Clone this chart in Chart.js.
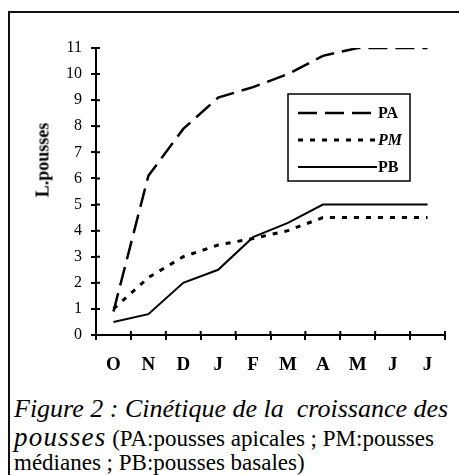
<!DOCTYPE html>
<html>
<head>
<meta charset="utf-8">
<script src="https://cdn.jsdelivr.net/npm/chart.js@4/dist/chart.umd.min.js"></script>
<style>
  html, body { margin: 0; padding: 0; background: #fff; }
  body { width: 459px; height: 475px; position: relative; overflow: hidden; color: #000; }
  .serif { font-family: 'Liberation Serif', serif; }
  #frame { position: absolute; left: 8px; top: 11px; width: 460px; height: 480px;
           border-top: 2px solid #111; border-left: 2px solid #111; }
  #wrap { position: absolute; left: 0; top: 0; width: 459px; height: 390px; }
  #ytitle { position: absolute; left: 43px; top: 160px; transform: translate(-50%, -50%) rotate(-90deg);
            font-weight: bold; font-size: 18px; white-space: nowrap; }
  .cap { position: absolute; left: 14px; white-space: pre; line-height: 28px; }
  #cap1 { top: 395px; font-size: 26px; font-style: italic; }
  #cap2 { top: 423px; font-size: 23px; }
  #cap2 i { font-size: 27px; line-height: 28px; letter-spacing: 1.2px; }
  #cap3 { top: 449px; font-size: 23px; }
</style>
</head>
<body>
<div id="frame"></div>
<div id="wrap"><canvas id="chart" width="459" height="390"></canvas></div>
<div id="ytitle" class="serif">L.pousses</div>
<div class="cap serif" id="cap1">Figure 2 : Cinétique de la  croissance des</div>
<div class="cap serif" id="cap2"><i>pousses</i> (PA:pousses apicales ; PM:pousses</div>
<div class="cap serif" id="cap3">médianes ; PB:pousses basales)</div>
<script>
"use strict";

// ── Data ──────────────────────────────────────────────────────────────────
const MONTHS = ["O", "N", "D", "J", "F", "M", "A", "M", "J", "J"];
const PA = [0.9, 6.1, 7.9, 9.1, 9.5, 10.0, 10.7, 11.0, 11.0, 11.0];
const PM = [1.0, 2.2, 3.0, 3.45, 3.7, 4.0, 4.5, 4.5, 4.5, 4.5];
const PB = [0.5, 0.8, 2.0, 2.5, 3.75, 4.3, 5.0, 5.0, 5.0, 5.0];
const Y_MIN = 0, Y_MAX = 11;

const SERIF = "Liberation Serif";

// ── Ticks crossing the axis + framed legend ───────────────────────────────
const axisExtras = {
  id: "axisExtras",
  afterDraw(chart) {
    const ctx = chart.ctx;
    const { x, y } = chart.scales;
    const area = chart.chartArea;
    ctx.save();
    ctx.strokeStyle = "#000";
    ctx.lineWidth = 2;
    ctx.beginPath();
    // inner half of the y ticks
    y.ticks.forEach((_, i) => {
      const py = y.getPixelForTick(i);
      ctx.moveTo(x.left, py);
      ctx.lineTo(x.left + 4, py);
    });
    // inner half of the x ticks, at category boundaries
    const n = MONTHS.length;
    for (let i = 0; i <= n; i++) {
      const px = x.left + i * (x.width / n);
      ctx.moveTo(px, y.bottom);
      ctx.lineTo(px, y.bottom - 4);
    }
    ctx.stroke();

    // legend box inside the plot
    const bx = area.left + 192, by = area.top + 46, bw = 122, bh = 87;
    ctx.lineWidth = 1.5;
    ctx.strokeRect(bx, by, bw, bh);
    chart.data.datasets.forEach((ds, i) => {
      const ly = by + 19 + i * 27;
      ctx.beginPath();
      ctx.lineWidth = ds.borderWidth;
      ctx.setLineDash(ds.borderDash || []);
      ctx.moveTo(bx + 10, ly);
      ctx.lineTo(bx + 89, ly);
      ctx.stroke();
      ctx.setLineDash([]);
      ctx.fillStyle = "#000";
      ctx.font = (ds.label === "PM" ? "italic " : "") + "bold 16px '" + SERIF + "'";
      ctx.textBaseline = "middle";
      ctx.fillText(ds.label, bx + 90, ly + 1);
    });
    ctx.restore();
  },
};

// ── Chart ─────────────────────────────────────────────────────────────────
function draw() {
  const ctx = document.getElementById("chart").getContext("2d");
  new Chart(ctx, {
    type: "line",
    data: {
      labels: MONTHS,
      datasets: [
        { label: "PA", data: PA, borderColor: "#000", borderWidth: 2.5, borderDash: [19, 8] },
        { label: "PM", data: PM, borderColor: "#000", borderWidth: 3, borderDash: [5, 7] },
        { label: "PB", data: PB, borderColor: "#000", borderWidth: 2 },
      ],
    },
    options: {
      responsive: false,
      animation: false,
      events: [],
      elements: { point: { radius: 0 }, line: { tension: 0, fill: false } },
      layout: { padding: { top: 48, right: 14, left: 0, bottom: 0 } },
      plugins: { legend: { display: false }, tooltip: { enabled: false } },
      scales: {
        x: {
          offset: true,
          afterFit: s => { s.height = 55; },
          border: { color: "#000", width: 2 },
          grid: { offset: true, drawOnChartArea: false, color: "#000", lineWidth: 2, tickLength: 5 },
          ticks: { color: "#000", padding: 14, font: { family: SERIF, size: 19, weight: "bold" } },
        },
        y: {
          min: Y_MIN,
          max: Y_MAX,
          afterFit: s => { s.width = 96; },
          border: { color: "#000", width: 2 },
          grid: { drawOnChartArea: false, color: "#000", lineWidth: 2, tickLength: 5 },
          ticks: { stepSize: 1, color: "#000", padding: 9, font: { family: SERIF, size: 16 } },
        },
      },
    },
    plugins: [axisExtras],
  });
}

document.fonts.load("bold 19px 'Liberation Serif'").then(draw, draw);
</script>
</body>
</html>
